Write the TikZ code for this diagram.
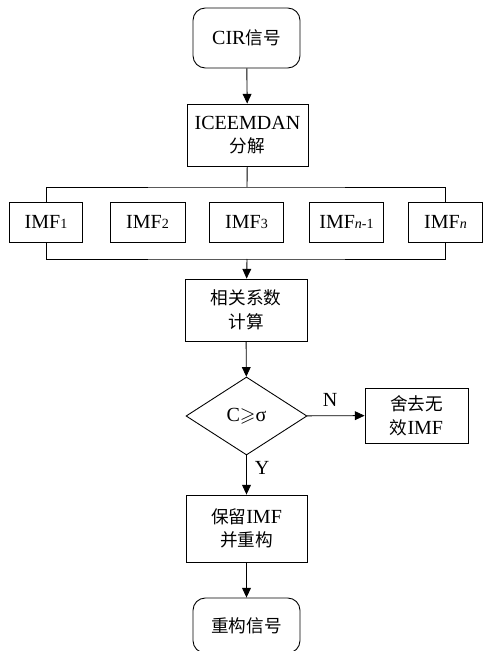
\documentclass[tikz,border=0pt]{standalone}
\usepackage{fontspec}
\usepackage{amssymb}
\setmainfont{Liberation Serif}
\newfontfamily\cjk{Noto Sans CJK SC}[Scale=0.88]
\usetikzlibrary{shapes.geometric,arrows.meta}

\tikzset{every node/.style={draw, align=center, inner sep=0pt, font=\fontsize{11.4}{13.5}\selectfont}}

\begin{document}
\begin{tikzpicture}[x=0.02cm, y=-0.02cm, line width=0.5pt, >={Triangle[length=5.5pt, width=5pt]},
	term/.style={rounded corners=7pt, minimum width=2.14cm},
	proc/.style={minimum width=2.42cm, minimum height=1.24cm},
	imf/.style={minimum width=1.47cm, minimum height=0.8cm},
	lbl/.style={draw=none}]
		\useasboundingbox (0,0) rectangle (483,651);
		% Draw the nodes
		\node[term, minimum height=1.2cm] (S) at (246.5,38) {CIR{\cjk 信号}};
		\node[proc] (D) at (247.5,135) {ICEEMDAN\\{\cjk 分解}};
		
		\node[imf] (M1) at (46,222) {IMF{\footnotesize 1}};
		\node[imf, minimum width=1.5cm] (M2) at (147.5,222) {IMF{\footnotesize 2}};
		\node[imf] (M3) at (246.5,222) {IMF{\footnotesize 3}};
		\node[imf] (M4) at (346.5,222) {IMF{\footnotesize\itshape n\upshape -1}};
		\node[imf] (M5) at (445.5,222) {IMF{\footnotesize\itshape n}};
		
		\node[proc, minimum width=2.44cm] (R) at (246,310) {{\cjk 相关系数}\\{\cjk 计算}};
		\node[diamond, minimum width=2.42cm, minimum height=1.56cm] (J) at (246.5,416) {C$\geqslant$σ};
		\node[minimum width=2.06cm, minimum height=1.1cm] (X) at (416.5,415.5) {{\cjk 舍去无}\\{\cjk 效}IMF};
		\node[proc, minimum height=1.34cm] (K) at (246.5,528.5) {{\cjk 保留}IMF\\{\cjk 并重构}};
		\node[term, minimum height=1.1cm] (E) at (246.5,625.5) {{\cjk 重构信号}};
		
		% Draw the bus lines
		\coordinate (T) at (247,187);
		\coordinate (B) at (247,259);
		\draw (D) -- (T);
		\draw (M1.north) |- (T) -| (M5.north);
		\draw (M1.south) |- (B) -| (M5.south);
		
		% Draw the arrows
		\draw[->] (S) -- (D);
		\draw[->] (B) -- (R);
		\draw[->] (R) -- (J);
		\draw[->] (J) -- (X);
		\draw[->] (J) -- (K);
		\draw[->] (K) -- (E);
		
		\node[lbl] at (330,400) {N};
		\node[lbl] at (262,468) {Y};
		
	\end{tikzpicture}
\end{document}
